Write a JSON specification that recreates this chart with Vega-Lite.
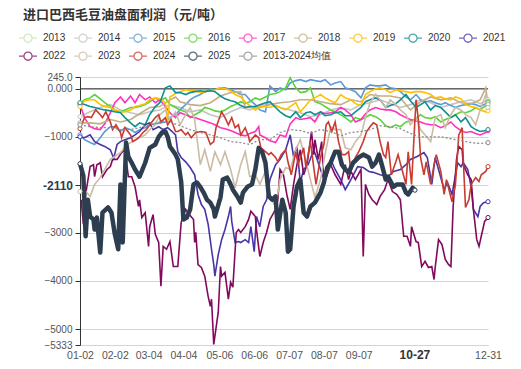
{
"$schema":"https://vega.github.io/schema/vega-lite/v6.json",
"width":408,"height":268,
"autosize":{"type":"none"},
"padding":{"left":80,"top":77,"right":33,"bottom":24},
"background":"#ffffff",
"title":{"text":"进口巴西毛豆油盘面利润（元/吨）","anchor":"start","frame":"group","dx":-57,"offset":6,"font":"Noto Sans CJK SC","fontSize":13,"fontWeight":"bold","color":"#333333"},
"config":{"view":{"stroke":null}},
"data":{"values":[
{"s":"2014","d":"01-02","v":-580},{"s":"2014","d":"01-11","v":-480},{"s":"2014","d":"01-20","v":-390},{"s":"2014","d":"01-29","v":-330},{"s":"2014","d":"02-07","v":-440},{"s":"2014","d":"02-16","v":-500},{"s":"2014","d":"02-24","v":-540},{"s":"2014","d":"03-05","v":-480},{"s":"2014","d":"03-14","v":-440},{"s":"2014","d":"03-23","v":-330},{"s":"2014","d":"04-01","v":-390},{"s":"2014","d":"04-10","v":-480},{"s":"2014","d":"04-19","v":-440},{"s":"2014","d":"04-28","v":-540},{"s":"2014","d":"05-07","v":-600},{"s":"2014","d":"05-16","v":-480},{"s":"2014","d":"05-25","v":-390},{"s":"2014","d":"06-02","v":-440},{"s":"2014","d":"06-11","v":-350},{"s":"2014","d":"06-20","v":-310},{"s":"2014","d":"06-29","v":-390},{"s":"2014","d":"07-08","v":-440},{"s":"2014","d":"07-17","v":-500},{"s":"2014","d":"07-26","v":-580},{"s":"2014","d":"08-04","v":-540},{"s":"2014","d":"08-13","v":-440},{"s":"2014","d":"08-22","v":-390},{"s":"2014","d":"08-31","v":-440},{"s":"2014","d":"09-09","v":-330},{"s":"2014","d":"09-17","v":-290},{"s":"2014","d":"09-26","v":-230},{"s":"2014","d":"10-05","v":-310},{"s":"2014","d":"10-14","v":-390},{"s":"2014","d":"10-23","v":-330},{"s":"2014","d":"11-01","v":-230},{"s":"2014","d":"11-10","v":-290},{"s":"2014","d":"11-19","v":-390},{"s":"2014","d":"11-28","v":-330},{"s":"2014","d":"12-07","v":-270},{"s":"2014","d":"12-16","v":-230},{"s":"2014","d":"12-24","v":-310},{"s":"2014","d":"12-31","v":-230},
{"s":"2015","d":"01-02","v":-960},{"s":"2015","d":"01-06","v":-1060},{"s":"2015","d":"01-11","v":-1120},{"s":"2015","d":"01-15","v":-1160},{"s":"2015","d":"01-20","v":-1020},{"s":"2015","d":"01-24","v":-890},{"s":"2015","d":"01-29","v":-790},{"s":"2015","d":"02-02","v":-790},{"s":"2015","d":"02-07","v":-890},{"s":"2015","d":"02-11","v":-810},{"s":"2015","d":"02-16","v":-850},{"s":"2015","d":"02-20","v":-910},{"s":"2015","d":"02-24","v":-850},{"s":"2015","d":"03-01","v":-810},{"s":"2015","d":"03-05","v":-750},{"s":"2015","d":"03-10","v":-730},{"s":"2015","d":"03-14","v":-710},{"s":"2015","d":"03-19","v":-690},{"s":"2015","d":"03-23","v":-600},{"s":"2015","d":"03-28","v":-540},{"s":"2015","d":"04-01","v":-440},{"s":"2015","d":"04-06","v":-330},{"s":"2015","d":"04-10","v":-230},{"s":"2015","d":"04-14","v":-170},{"s":"2015","d":"04-19","v":-120},{"s":"2015","d":"04-23","v":-60},{"s":"2015","d":"04-28","v":0},{"s":"2015","d":"05-02","v":-20},{"s":"2015","d":"05-07","v":20},{"s":"2015","d":"05-11","v":20},{"s":"2015","d":"05-16","v":-20},{"s":"2015","d":"05-20","v":-60},{"s":"2015","d":"05-25","v":-120},{"s":"2015","d":"05-29","v":-120},{"s":"2015","d":"06-02","v":-230},{"s":"2015","d":"06-07","v":-330},{"s":"2015","d":"06-11","v":-440},{"s":"2015","d":"06-16","v":-480},{"s":"2015","d":"06-20","v":60},{"s":"2015","d":"06-25","v":-60},{"s":"2015","d":"06-29","v":20},{"s":"2015","d":"07-04","v":-20},{"s":"2015","d":"07-08","v":120},{"s":"2015","d":"07-13","v":170},{"s":"2015","d":"07-17","v":190},{"s":"2015","d":"07-22","v":150},{"s":"2015","d":"07-26","v":190},{"s":"2015","d":"07-30","v":170},{"s":"2015","d":"08-04","v":150},{"s":"2015","d":"08-08","v":190},{"s":"2015","d":"08-13","v":80},{"s":"2015","d":"08-17","v":120},{"s":"2015","d":"08-22","v":150},{"s":"2015","d":"08-26","v":20},{"s":"2015","d":"08-31","v":-20},{"s":"2015","d":"09-04","v":-60},{"s":"2015","d":"09-09","v":-190},{"s":"2015","d":"09-13","v":20},{"s":"2015","d":"09-17","v":80},{"s":"2015","d":"09-22","v":60},{"s":"2015","d":"09-26","v":60},{"s":"2015","d":"10-01","v":80},{"s":"2015","d":"10-05","v":20},{"s":"2015","d":"10-10","v":0},{"s":"2015","d":"10-14","v":-60},{"s":"2015","d":"10-19","v":-170},{"s":"2015","d":"10-23","v":-230},{"s":"2015","d":"10-28","v":-120},{"s":"2015","d":"11-01","v":-230},{"s":"2015","d":"11-05","v":-270},{"s":"2015","d":"11-10","v":-250},{"s":"2015","d":"11-14","v":-290},{"s":"2015","d":"11-19","v":-330},{"s":"2015","d":"11-23","v":-290},{"s":"2015","d":"11-28","v":-350},{"s":"2015","d":"12-02","v":-390},{"s":"2015","d":"12-07","v":-350},{"s":"2015","d":"12-11","v":-330},{"s":"2015","d":"12-16","v":-310},{"s":"2015","d":"12-20","v":-330},{"s":"2015","d":"12-24","v":-370},{"s":"2015","d":"12-29","v":-310},{"s":"2015","d":"12-31","v":-270},
{"s":"2016","d":"01-02","v":-310},{"s":"2016","d":"01-06","v":-230},{"s":"2016","d":"01-11","v":-190},{"s":"2016","d":"01-15","v":-120},{"s":"2016","d":"01-20","v":-210},{"s":"2016","d":"01-24","v":-290},{"s":"2016","d":"01-29","v":-370},{"s":"2016","d":"02-02","v":-440},{"s":"2016","d":"02-07","v":-480},{"s":"2016","d":"02-11","v":-440},{"s":"2016","d":"02-16","v":-390},{"s":"2016","d":"02-20","v":-390},{"s":"2016","d":"02-24","v":-370},{"s":"2016","d":"03-01","v":-330},{"s":"2016","d":"03-05","v":-270},{"s":"2016","d":"03-10","v":-190},{"s":"2016","d":"03-14","v":-250},{"s":"2016","d":"03-19","v":-190},{"s":"2016","d":"03-23","v":-330},{"s":"2016","d":"03-28","v":-390},{"s":"2016","d":"04-01","v":-440},{"s":"2016","d":"04-06","v":-480},{"s":"2016","d":"04-10","v":-600},{"s":"2016","d":"04-14","v":-540},{"s":"2016","d":"04-19","v":-480},{"s":"2016","d":"04-23","v":-390},{"s":"2016","d":"04-28","v":-420},{"s":"2016","d":"05-02","v":-460},{"s":"2016","d":"05-07","v":-480},{"s":"2016","d":"05-11","v":-440},{"s":"2016","d":"05-16","v":-370},{"s":"2016","d":"05-20","v":-330},{"s":"2016","d":"05-25","v":-270},{"s":"2016","d":"05-29","v":-310},{"s":"2016","d":"06-02","v":-270},{"s":"2016","d":"06-07","v":-190},{"s":"2016","d":"06-11","v":-230},{"s":"2016","d":"06-16","v":-170},{"s":"2016","d":"06-20","v":-120},{"s":"2016","d":"06-25","v":-100},{"s":"2016","d":"06-29","v":-60},{"s":"2016","d":"07-04","v":20},{"s":"2016","d":"07-08","v":230},{"s":"2016","d":"07-13","v":20},{"s":"2016","d":"07-17","v":-80},{"s":"2016","d":"07-22","v":-60},{"s":"2016","d":"07-26","v":20},{"s":"2016","d":"07-30","v":-270},{"s":"2016","d":"08-04","v":-310},{"s":"2016","d":"08-08","v":-370},{"s":"2016","d":"08-13","v":-440},{"s":"2016","d":"08-17","v":-480},{"s":"2016","d":"08-22","v":-540},{"s":"2016","d":"08-26","v":-600},{"s":"2016","d":"08-31","v":-690},{"s":"2016","d":"09-04","v":-600},{"s":"2016","d":"09-09","v":-640},{"s":"2016","d":"09-13","v":-600},{"s":"2016","d":"09-17","v":-540},{"s":"2016","d":"09-22","v":-580},{"s":"2016","d":"09-26","v":-640},{"s":"2016","d":"10-01","v":-770},{"s":"2016","d":"10-05","v":-810},{"s":"2016","d":"10-10","v":-750},{"s":"2016","d":"10-14","v":-790},{"s":"2016","d":"10-19","v":-690},{"s":"2016","d":"10-23","v":-670},{"s":"2016","d":"10-28","v":-620},{"s":"2016","d":"11-01","v":-540},{"s":"2016","d":"11-05","v":-600},{"s":"2016","d":"11-10","v":-620},{"s":"2016","d":"11-14","v":-580},{"s":"2016","d":"11-19","v":-690},{"s":"2016","d":"11-23","v":-640},{"s":"2016","d":"11-28","v":-600},{"s":"2016","d":"12-02","v":-540},{"s":"2016","d":"12-07","v":-480},{"s":"2016","d":"12-11","v":-500},{"s":"2016","d":"12-16","v":-460},{"s":"2016","d":"12-20","v":-390},{"s":"2016","d":"12-24","v":-440},{"s":"2016","d":"12-29","v":-350},{"s":"2016","d":"12-31","v":-290},
{"s":"2017","d":"01-02","v":-330},{"s":"2017","d":"01-06","v":-600},{"s":"2017","d":"01-11","v":-790},{"s":"2017","d":"01-15","v":-830},{"s":"2017","d":"01-20","v":-850},{"s":"2017","d":"01-24","v":-730},{"s":"2017","d":"01-29","v":-500},{"s":"2017","d":"02-02","v":-290},{"s":"2017","d":"02-07","v":-170},{"s":"2017","d":"02-11","v":-290},{"s":"2017","d":"02-16","v":-150},{"s":"2017","d":"02-20","v":-290},{"s":"2017","d":"02-24","v":-120},{"s":"2017","d":"03-01","v":-230},{"s":"2017","d":"03-05","v":-170},{"s":"2017","d":"03-10","v":-290},{"s":"2017","d":"03-14","v":-230},{"s":"2017","d":"03-19","v":-370},{"s":"2017","d":"03-23","v":-500},{"s":"2017","d":"03-28","v":-600},{"s":"2017","d":"04-01","v":-500},{"s":"2017","d":"04-06","v":-540},{"s":"2017","d":"04-10","v":-580},{"s":"2017","d":"04-14","v":-600},{"s":"2017","d":"04-19","v":-640},{"s":"2017","d":"04-23","v":-670},{"s":"2017","d":"04-28","v":-710},{"s":"2017","d":"05-02","v":-750},{"s":"2017","d":"05-07","v":-810},{"s":"2017","d":"05-11","v":-830},{"s":"2017","d":"05-16","v":-870},{"s":"2017","d":"05-20","v":-910},{"s":"2017","d":"05-25","v":-960},{"s":"2017","d":"05-29","v":-980},{"s":"2017","d":"06-02","v":-930},{"s":"2017","d":"06-07","v":-890},{"s":"2017","d":"06-10","v":-790},{"s":"2017","d":"06-11","v":-960},{"s":"2017","d":"06-16","v":-1020},{"s":"2017","d":"06-20","v":-1080},{"s":"2017","d":"06-25","v":-1120},{"s":"2017","d":"06-29","v":-960},{"s":"2017","d":"07-04","v":-1000},{"s":"2017","d":"07-08","v":-730},{"s":"2017","d":"07-13","v":-600},{"s":"2017","d":"07-17","v":-640},{"s":"2017","d":"07-22","v":-620},{"s":"2017","d":"07-26","v":-600},{"s":"2017","d":"07-30","v":-690},{"s":"2017","d":"08-04","v":-480},{"s":"2017","d":"08-08","v":-520},{"s":"2017","d":"08-13","v":-500},{"s":"2017","d":"08-17","v":-480},{"s":"2017","d":"08-22","v":-390},{"s":"2017","d":"08-26","v":-440},{"s":"2017","d":"08-31","v":-540},{"s":"2017","d":"09-04","v":-690},{"s":"2017","d":"09-09","v":-640},{"s":"2017","d":"09-13","v":-520},{"s":"2017","d":"09-17","v":-440},{"s":"2017","d":"09-22","v":-390},{"s":"2017","d":"09-26","v":-420},{"s":"2017","d":"10-01","v":-440},{"s":"2017","d":"10-05","v":-440},{"s":"2017","d":"10-10","v":-480},{"s":"2017","d":"10-14","v":-540},{"s":"2017","d":"10-19","v":-600},{"s":"2017","d":"10-23","v":-640},{"s":"2017","d":"10-28","v":-670},{"s":"2017","d":"11-01","v":-690},{"s":"2017","d":"11-05","v":-730},{"s":"2017","d":"11-10","v":-750},{"s":"2017","d":"11-14","v":-750},{"s":"2017","d":"11-19","v":-810},{"s":"2017","d":"11-23","v":-770},{"s":"2017","d":"11-28","v":-690},{"s":"2017","d":"12-02","v":-790},{"s":"2017","d":"12-07","v":-870},{"s":"2017","d":"12-11","v":-910},{"s":"2017","d":"12-16","v":-890},{"s":"2017","d":"12-20","v":-930},{"s":"2017","d":"12-24","v":-960},{"s":"2017","d":"12-29","v":-910},{"s":"2017","d":"12-31","v":-870},
{"s":"2018","d":"01-02","v":-710},{"s":"2018","d":"01-11","v":-710},{"s":"2018","d":"01-20","v":-730},{"s":"2018","d":"01-29","v":-640},{"s":"2018","d":"02-07","v":-690},{"s":"2018","d":"02-16","v":-640},{"s":"2018","d":"02-24","v":-520},{"s":"2018","d":"03-05","v":-390},{"s":"2018","d":"03-14","v":-370},{"s":"2018","d":"03-23","v":-230},{"s":"2018","d":"03-28","v":-170},{"s":"2018","d":"04-01","v":-270},{"s":"2018","d":"04-10","v":-330},{"s":"2018","d":"04-19","v":-350},{"s":"2018","d":"04-28","v":-290},{"s":"2018","d":"05-07","v":-150},{"s":"2018","d":"05-16","v":-80},{"s":"2018","d":"05-25","v":-60},{"s":"2018","d":"05-29","v":-390},{"s":"2018","d":"06-02","v":-390},{"s":"2018","d":"06-11","v":-390},{"s":"2018","d":"06-20","v":-330},{"s":"2018","d":"06-29","v":-290},{"s":"2018","d":"07-08","v":-270},{"s":"2018","d":"07-17","v":-230},{"s":"2018","d":"07-26","v":-230},{"s":"2018","d":"08-04","v":-270},{"s":"2018","d":"08-13","v":-310},{"s":"2018","d":"08-22","v":-330},{"s":"2018","d":"08-31","v":-230},{"s":"2018","d":"09-09","v":-270},{"s":"2018","d":"09-17","v":-120},{"s":"2018","d":"09-26","v":-150},{"s":"2018","d":"10-05","v":-150},{"s":"2018","d":"10-14","v":-190},{"s":"2018","d":"10-23","v":-440},{"s":"2018","d":"11-01","v":-270},{"s":"2018","d":"11-10","v":-170},{"s":"2018","d":"11-19","v":-230},{"s":"2018","d":"11-28","v":-190},{"s":"2018","d":"12-07","v":-290},{"s":"2018","d":"12-16","v":-310},{"s":"2018","d":"12-24","v":-230},{"s":"2018","d":"12-29","v":20},{"s":"2018","d":"12-31","v":-330},
{"s":"2019","d":"01-02","v":-370},{"s":"2019","d":"01-06","v":-250},{"s":"2019","d":"01-11","v":-230},{"s":"2019","d":"01-15","v":-230},{"s":"2019","d":"01-20","v":-330},{"s":"2019","d":"01-24","v":-370},{"s":"2019","d":"01-29","v":-390},{"s":"2019","d":"02-02","v":-440},{"s":"2019","d":"02-07","v":-480},{"s":"2019","d":"02-11","v":-480},{"s":"2019","d":"02-16","v":-440},{"s":"2019","d":"02-20","v":-370},{"s":"2019","d":"02-24","v":-350},{"s":"2019","d":"03-01","v":-310},{"s":"2019","d":"03-05","v":-230},{"s":"2019","d":"03-10","v":-190},{"s":"2019","d":"03-14","v":-210},{"s":"2019","d":"03-19","v":-290},{"s":"2019","d":"03-21","v":-690},{"s":"2019","d":"03-23","v":-170},{"s":"2019","d":"03-28","v":-100},{"s":"2019","d":"04-01","v":-60},{"s":"2019","d":"04-06","v":-20},{"s":"2019","d":"04-10","v":-40},{"s":"2019","d":"04-14","v":-40},{"s":"2019","d":"04-19","v":-80},{"s":"2019","d":"04-23","v":-60},{"s":"2019","d":"04-28","v":-40},{"s":"2019","d":"05-02","v":-20},{"s":"2019","d":"05-07","v":20},{"s":"2019","d":"05-11","v":0},{"s":"2019","d":"05-16","v":-40},{"s":"2019","d":"05-20","v":-120},{"s":"2019","d":"05-25","v":-170},{"s":"2019","d":"05-29","v":-270},{"s":"2019","d":"06-02","v":-350},{"s":"2019","d":"06-07","v":-440},{"s":"2019","d":"06-11","v":-370},{"s":"2019","d":"06-16","v":-370},{"s":"2019","d":"06-20","v":-390},{"s":"2019","d":"06-25","v":-350},{"s":"2019","d":"06-29","v":-390},{"s":"2019","d":"07-04","v":-440},{"s":"2019","d":"07-08","v":-370},{"s":"2019","d":"07-13","v":-290},{"s":"2019","d":"07-17","v":-480},{"s":"2019","d":"07-22","v":-350},{"s":"2019","d":"07-26","v":-230},{"s":"2019","d":"07-30","v":-190},{"s":"2019","d":"08-04","v":-120},{"s":"2019","d":"08-08","v":-190},{"s":"2019","d":"08-13","v":-250},{"s":"2019","d":"08-17","v":-290},{"s":"2019","d":"08-22","v":-120},{"s":"2019","d":"08-26","v":-190},{"s":"2019","d":"08-31","v":-230},{"s":"2019","d":"09-04","v":-310},{"s":"2019","d":"09-09","v":-350},{"s":"2019","d":"09-13","v":-120},{"s":"2019","d":"09-17","v":-60},{"s":"2019","d":"09-22","v":0},{"s":"2019","d":"09-26","v":20},{"s":"2019","d":"10-01","v":-20},{"s":"2019","d":"10-05","v":-80},{"s":"2019","d":"10-10","v":-20},{"s":"2019","d":"10-14","v":-40},{"s":"2019","d":"10-19","v":-60},{"s":"2019","d":"10-23","v":-80},{"s":"2019","d":"10-28","v":-60},{"s":"2019","d":"11-01","v":-60},{"s":"2019","d":"11-05","v":-80},{"s":"2019","d":"11-10","v":-120},{"s":"2019","d":"11-14","v":-190},{"s":"2019","d":"11-19","v":-170},{"s":"2019","d":"11-23","v":-210},{"s":"2019","d":"11-28","v":-230},{"s":"2019","d":"12-02","v":-170},{"s":"2019","d":"12-07","v":-210},{"s":"2019","d":"12-11","v":-330},{"s":"2019","d":"12-16","v":-370},{"s":"2019","d":"12-20","v":-390},{"s":"2019","d":"12-24","v":-440},{"s":"2019","d":"12-29","v":-480},{"s":"2019","d":"12-31","v":-460},
{"s":"2020","d":"01-02","v":-290},{"s":"2020","d":"01-06","v":-330},{"s":"2020","d":"01-11","v":-370},{"s":"2020","d":"01-15","v":-390},{"s":"2020","d":"01-20","v":-420},{"s":"2020","d":"01-24","v":-440},{"s":"2020","d":"01-29","v":-460},{"s":"2020","d":"02-02","v":-480},{"s":"2020","d":"02-07","v":-500},{"s":"2020","d":"02-11","v":-600},{"s":"2020","d":"02-16","v":-710},{"s":"2020","d":"02-20","v":-790},{"s":"2020","d":"02-24","v":-710},{"s":"2020","d":"03-01","v":-750},{"s":"2020","d":"03-05","v":-540},{"s":"2020","d":"03-10","v":-370},{"s":"2020","d":"03-14","v":-290},{"s":"2020","d":"03-19","v":20},{"s":"2020","d":"03-23","v":60},{"s":"2020","d":"03-28","v":-80},{"s":"2020","d":"04-01","v":-80},{"s":"2020","d":"04-06","v":-120},{"s":"2020","d":"04-10","v":-80},{"s":"2020","d":"04-14","v":-60},{"s":"2020","d":"04-19","v":-40},{"s":"2020","d":"04-23","v":-60},{"s":"2020","d":"04-28","v":-40},{"s":"2020","d":"05-02","v":-60},{"s":"2020","d":"05-07","v":-150},{"s":"2020","d":"05-11","v":-210},{"s":"2020","d":"05-16","v":-250},{"s":"2020","d":"05-20","v":-270},{"s":"2020","d":"05-25","v":-350},{"s":"2020","d":"05-29","v":-390},{"s":"2020","d":"06-02","v":-370},{"s":"2020","d":"06-07","v":-370},{"s":"2020","d":"06-11","v":-330},{"s":"2020","d":"06-16","v":-290},{"s":"2020","d":"06-20","v":-270},{"s":"2020","d":"06-25","v":-390},{"s":"2020","d":"06-29","v":-480},{"s":"2020","d":"07-04","v":-560},{"s":"2020","d":"07-08","v":-600},{"s":"2020","d":"07-13","v":-480},{"s":"2020","d":"07-17","v":-600},{"s":"2020","d":"07-22","v":-500},{"s":"2020","d":"07-26","v":-480},{"s":"2020","d":"07-30","v":-540},{"s":"2020","d":"08-04","v":-480},{"s":"2020","d":"08-08","v":-560},{"s":"2020","d":"08-13","v":-540},{"s":"2020","d":"08-17","v":-500},{"s":"2020","d":"08-22","v":-480},{"s":"2020","d":"08-26","v":-560},{"s":"2020","d":"08-31","v":-560},{"s":"2020","d":"09-04","v":-480},{"s":"2020","d":"09-09","v":-390},{"s":"2020","d":"09-13","v":-270},{"s":"2020","d":"09-17","v":-230},{"s":"2020","d":"09-22","v":-190},{"s":"2020","d":"09-26","v":-230},{"s":"2020","d":"10-01","v":-390},{"s":"2020","d":"10-05","v":-350},{"s":"2020","d":"10-10","v":-310},{"s":"2020","d":"10-14","v":-230},{"s":"2020","d":"10-19","v":-120},{"s":"2020","d":"10-23","v":-250},{"s":"2020","d":"10-28","v":-390},{"s":"2020","d":"11-01","v":-330},{"s":"2020","d":"11-05","v":-270},{"s":"2020","d":"11-10","v":-440},{"s":"2020","d":"11-14","v":-350},{"s":"2020","d":"11-19","v":-390},{"s":"2020","d":"11-23","v":-480},{"s":"2020","d":"11-28","v":-600},{"s":"2020","d":"12-02","v":-540},{"s":"2020","d":"12-07","v":-690},{"s":"2020","d":"12-11","v":-600},{"s":"2020","d":"12-16","v":-790},{"s":"2020","d":"12-20","v":-850},{"s":"2020","d":"12-24","v":-890},{"s":"2020","d":"12-29","v":-870},{"s":"2020","d":"12-31","v":-850},
{"s":"2021","d":"01-02","v":-1000},{"s":"2021","d":"01-06","v":-1020},{"s":"2021","d":"01-11","v":-960},{"s":"2021","d":"01-15","v":-1100},{"s":"2021","d":"01-20","v":-1160},{"s":"2021","d":"01-24","v":-1200},{"s":"2021","d":"01-29","v":-1270},{"s":"2021","d":"02-01","v":-1450},{"s":"2021","d":"02-04","v":-1160},{"s":"2021","d":"02-07","v":-1100},{"s":"2021","d":"02-11","v":-1060},{"s":"2021","d":"02-16","v":-1020},{"s":"2021","d":"02-20","v":-960},{"s":"2021","d":"02-24","v":-890},{"s":"2021","d":"03-01","v":-750},{"s":"2021","d":"03-05","v":-710},{"s":"2021","d":"03-08","v":-850},{"s":"2021","d":"03-13","v":-790},{"s":"2021","d":"03-17","v":-850},{"s":"2021","d":"03-21","v":-810},{"s":"2021","d":"03-25","v":-890},{"s":"2021","d":"03-28","v":-960},{"s":"2021","d":"03-30","v":-1310},{"s":"2021","d":"04-02","v":-1430},{"s":"2021","d":"04-06","v":-1520},{"s":"2021","d":"04-10","v":-1640},{"s":"2021","d":"04-14","v":-1790},{"s":"2021","d":"04-17","v":-2200},{"s":"2021","d":"04-20","v":-2410},{"s":"2021","d":"04-23","v":-2510},{"s":"2021","d":"04-26","v":-2820},{"s":"2021","d":"04-29","v":-3340},{"s":"2021","d":"05-01","v":-3660},{"s":"2021","d":"05-02","v":-3900},{"s":"2021","d":"05-05","v":-3450},{"s":"2021","d":"05-08","v":-3140},{"s":"2021","d":"05-11","v":-2930},{"s":"2021","d":"05-14","v":-2660},{"s":"2021","d":"05-16","v":-2450},{"s":"2021","d":"05-17","v":-2760},{"s":"2021","d":"05-20","v":-3200},{"s":"2021","d":"05-23","v":-3180},{"s":"2021","d":"05-25","v":-3200},{"s":"2021","d":"05-29","v":-3140},{"s":"2021","d":"06-01","v":-3200},{"s":"2021","d":"06-03","v":-2870},{"s":"2021","d":"06-06","v":-3390},{"s":"2021","d":"06-08","v":-2660},{"s":"2021","d":"06-11","v":-2870},{"s":"2021","d":"06-14","v":-2450},{"s":"2021","d":"06-17","v":-2310},{"s":"2021","d":"06-20","v":-1890},{"s":"2021","d":"06-25","v":-1580},{"s":"2021","d":"06-29","v":-1470},{"s":"2021","d":"07-04","v":-1270},{"s":"2021","d":"07-08","v":-960},{"s":"2021","d":"07-11","v":-1410},{"s":"2021","d":"07-14","v":-1200},{"s":"2021","d":"07-17","v":-1950},{"s":"2021","d":"07-20","v":-1680},{"s":"2021","d":"07-24","v":-1580},{"s":"2021","d":"07-29","v":-1270},{"s":"2021","d":"08-01","v":-1470},{"s":"2021","d":"08-07","v":-1890},{"s":"2021","d":"08-13","v":-1470},{"s":"2021","d":"08-17","v":-1680},{"s":"2021","d":"08-22","v":-1890},{"s":"2021","d":"08-26","v":-2100},{"s":"2021","d":"08-31","v":-1890},{"s":"2021","d":"09-06","v":-1620},{"s":"2021","d":"09-11","v":-1640},{"s":"2021","d":"09-16","v":-1720},{"s":"2021","d":"09-20","v":-1740},{"s":"2021","d":"09-26","v":-1790},{"s":"2021","d":"10-03","v":-1830},{"s":"2021","d":"10-08","v":-1720},{"s":"2021","d":"10-14","v":-1680},{"s":"2021","d":"10-19","v":-1580},{"s":"2021","d":"10-23","v":-1470},{"s":"2021","d":"10-29","v":-1410},{"s":"2021","d":"11-04","v":-1330},{"s":"2021","d":"11-07","v":-1430},{"s":"2021","d":"11-11","v":-1990},{"s":"2021","d":"11-14","v":-1430},{"s":"2021","d":"11-17","v":-1680},{"s":"2021","d":"11-22","v":-2100},{"s":"2021","d":"11-25","v":-1950},{"s":"2021","d":"11-29","v":-2200},{"s":"2021","d":"12-04","v":-1540},{"s":"2021","d":"12-07","v":-1620},{"s":"2021","d":"12-09","v":-1540},{"s":"2021","d":"12-13","v":-1680},{"s":"2021","d":"12-16","v":-2040},{"s":"2021","d":"12-18","v":-2510},{"s":"2021","d":"12-22","v":-2660},{"s":"2021","d":"12-24","v":-2450},{"s":"2021","d":"12-27","v":-2370},{"s":"2021","d":"12-31","v":-2350},
{"s":"2022","d":"01-03","v":-2310},{"s":"2022","d":"01-05","v":-2820},{"s":"2022","d":"01-07","v":-2200},{"s":"2022","d":"01-11","v":-1620},{"s":"2022","d":"01-14","v":-1580},{"s":"2022","d":"01-15","v":-1830},{"s":"2022","d":"01-17","v":-1580},{"s":"2022","d":"01-20","v":-1540},{"s":"2022","d":"01-22","v":-1830},{"s":"2022","d":"01-26","v":-1680},{"s":"2022","d":"01-29","v":-1620},{"s":"2022","d":"01-31","v":-1470},{"s":"2022","d":"02-04","v":-1470},{"s":"2022","d":"02-08","v":-1330},{"s":"2022","d":"02-11","v":-1270},{"s":"2022","d":"02-14","v":-1830},{"s":"2022","d":"02-17","v":-1830},{"s":"2022","d":"02-20","v":-2040},{"s":"2022","d":"02-23","v":-2450},{"s":"2022","d":"02-24","v":-2310},{"s":"2022","d":"02-26","v":-2680},{"s":"2022","d":"03-01","v":-2580},{"s":"2022","d":"03-04","v":-3280},{"s":"2022","d":"03-05","v":-2870},{"s":"2022","d":"03-08","v":-2620},{"s":"2022","d":"03-10","v":-3030},{"s":"2022","d":"03-13","v":-3200},{"s":"2022","d":"03-15","v":-4110},{"s":"2022","d":"03-17","v":-3280},{"s":"2022","d":"03-20","v":-3340},{"s":"2022","d":"03-23","v":-3180},{"s":"2022","d":"03-26","v":-3700},{"s":"2022","d":"03-30","v":-3700},{"s":"2022","d":"04-02","v":-2780},{"s":"2022","d":"04-06","v":-2510},{"s":"2022","d":"04-08","v":-2580},{"s":"2022","d":"04-13","v":-2720},{"s":"2022","d":"04-14","v":-3200},{"s":"2022","d":"04-15","v":-2990},{"s":"2022","d":"04-17","v":-3660},{"s":"2022","d":"04-20","v":-3720},{"s":"2022","d":"04-23","v":-3900},{"s":"2022","d":"04-26","v":-4320},{"s":"2022","d":"04-28","v":-4530},{"s":"2022","d":"04-29","v":-4380},{"s":"2022","d":"05-01","v":-5320},{"s":"2022","d":"05-05","v":-4650},{"s":"2022","d":"05-07","v":-3700},{"s":"2022","d":"05-08","v":-3900},{"s":"2022","d":"05-11","v":-3820},{"s":"2022","d":"05-14","v":-4380},{"s":"2022","d":"05-16","v":-4030},{"s":"2022","d":"05-18","v":-4130},{"s":"2022","d":"05-21","v":-2990},{"s":"2022","d":"05-23","v":-2930},{"s":"2022","d":"05-25","v":-2990},{"s":"2022","d":"05-29","v":-2870},{"s":"2022","d":"06-01","v":-2720},{"s":"2022","d":"06-03","v":-2550},{"s":"2022","d":"06-07","v":-2660},{"s":"2022","d":"06-08","v":-2930},{"s":"2022","d":"06-11","v":-3490},{"s":"2022","d":"06-14","v":-3200},{"s":"2022","d":"06-17","v":-2990},{"s":"2022","d":"06-20","v":-2720},{"s":"2022","d":"06-25","v":-2510},{"s":"2022","d":"06-27","v":-2310},{"s":"2022","d":"06-29","v":-1680},{"s":"2022","d":"07-02","v":-1790},{"s":"2022","d":"07-05","v":-2200},{"s":"2022","d":"07-08","v":-2510},{"s":"2022","d":"07-11","v":-1990},{"s":"2022","d":"07-14","v":-1580},{"s":"2022","d":"07-17","v":-1270},{"s":"2022","d":"07-20","v":-1790},{"s":"2022","d":"07-23","v":-1580},{"s":"2022","d":"07-27","v":-890},{"s":"2022","d":"07-29","v":-1370},{"s":"2022","d":"07-30","v":-1060},{"s":"2022","d":"08-02","v":-1470},{"s":"2022","d":"08-05","v":-1100},{"s":"2022","d":"08-07","v":-1950},{"s":"2022","d":"08-10","v":-1790},{"s":"2022","d":"08-13","v":-1580},{"s":"2022","d":"08-17","v":-1790},{"s":"2022","d":"08-22","v":-1990},{"s":"2022","d":"08-26","v":-1580},{"s":"2022","d":"08-29","v":-1890},{"s":"2022","d":"08-31","v":-1720},{"s":"2022","d":"09-04","v":-1890},{"s":"2022","d":"09-09","v":-1680},{"s":"2022","d":"09-11","v":-3490},{"s":"2022","d":"09-13","v":-1990},{"s":"2022","d":"09-16","v":-2200},{"s":"2022","d":"09-19","v":-2310},{"s":"2022","d":"09-23","v":-2410},{"s":"2022","d":"09-26","v":-2240},{"s":"2022","d":"09-30","v":-2100},{"s":"2022","d":"10-03","v":-1890},{"s":"2022","d":"10-07","v":-2140},{"s":"2022","d":"10-11","v":-2200},{"s":"2022","d":"10-14","v":-2310},{"s":"2022","d":"10-17","v":-3070},{"s":"2022","d":"10-20","v":-3070},{"s":"2022","d":"10-23","v":-3280},{"s":"2022","d":"10-24","v":-2870},{"s":"2022","d":"10-28","v":-3180},{"s":"2022","d":"10-30","v":-3200},{"s":"2022","d":"11-02","v":-3700},{"s":"2022","d":"11-05","v":-3590},{"s":"2022","d":"11-08","v":-3720},{"s":"2022","d":"11-11","v":-3700},{"s":"2022","d":"11-13","v":-3970},{"s":"2022","d":"11-14","v":-3720},{"s":"2022","d":"11-17","v":-3140},{"s":"2022","d":"11-20","v":-3240},{"s":"2022","d":"11-23","v":-3550},{"s":"2022","d":"11-26","v":-3660},{"s":"2022","d":"11-28","v":-3700},{"s":"2022","d":"11-30","v":-2450},{"s":"2022","d":"12-03","v":-1470},{"s":"2022","d":"12-05","v":-1200},{"s":"2022","d":"12-08","v":-1270},{"s":"2022","d":"12-09","v":-1580},{"s":"2022","d":"12-13","v":-1790},{"s":"2022","d":"12-16","v":-1890},{"s":"2022","d":"12-18","v":-2510},{"s":"2022","d":"12-21","v":-3140},{"s":"2022","d":"12-23","v":-3280},{"s":"2022","d":"12-25","v":-3070},{"s":"2022","d":"12-28","v":-2760},{"s":"2022","d":"12-31","v":-2680},
{"s":"2023","d":"01-02","v":-2140},{"s":"2023","d":"01-06","v":-2100},{"s":"2023","d":"01-11","v":-2240},{"s":"2023","d":"01-15","v":-1990},{"s":"2023","d":"01-20","v":-1850},{"s":"2023","d":"01-24","v":-1680},{"s":"2023","d":"01-29","v":-1470},{"s":"2023","d":"02-02","v":-1410},{"s":"2023","d":"02-07","v":-1330},{"s":"2023","d":"02-11","v":-1200},{"s":"2023","d":"02-16","v":-1120},{"s":"2023","d":"02-20","v":-1060},{"s":"2023","d":"02-24","v":-1020},{"s":"2023","d":"03-01","v":-960},{"s":"2023","d":"03-05","v":-850},{"s":"2023","d":"03-10","v":-750},{"s":"2023","d":"03-14","v":-540},{"s":"2023","d":"03-19","v":-440},{"s":"2023","d":"03-23","v":-640},{"s":"2023","d":"03-28","v":-480},{"s":"2023","d":"04-01","v":-750},{"s":"2023","d":"04-06","v":-540},{"s":"2023","d":"04-10","v":-390},{"s":"2023","d":"04-14","v":-640},{"s":"2023","d":"04-19","v":-1580},{"s":"2023","d":"04-23","v":-1270},{"s":"2023","d":"04-28","v":-1720},{"s":"2023","d":"05-02","v":-1310},{"s":"2023","d":"05-07","v":-1580},{"s":"2023","d":"05-11","v":-1310},{"s":"2023","d":"05-16","v":-1680},{"s":"2023","d":"05-20","v":-2060},{"s":"2023","d":"05-25","v":-1580},{"s":"2023","d":"05-29","v":-1310},{"s":"2023","d":"06-02","v":-1830},{"s":"2023","d":"06-07","v":-1790},{"s":"2023","d":"06-11","v":-1990},{"s":"2023","d":"06-16","v":-1720},{"s":"2023","d":"06-20","v":-2200},{"s":"2023","d":"06-25","v":-2470},{"s":"2023","d":"06-29","v":-1890},{"s":"2023","d":"07-04","v":-1640},{"s":"2023","d":"07-08","v":-1680},{"s":"2023","d":"07-13","v":-1270},{"s":"2023","d":"07-17","v":-1060},{"s":"2023","d":"07-22","v":-1520},{"s":"2023","d":"07-26","v":-1890},{"s":"2023","d":"07-30","v":-2260},{"s":"2023","d":"08-04","v":-1890},{"s":"2023","d":"08-08","v":-1370},{"s":"2023","d":"08-13","v":-790},{"s":"2023","d":"08-17","v":-850},{"s":"2023","d":"08-22","v":-850},{"s":"2023","d":"08-26","v":-1230},{"s":"2023","d":"08-31","v":-1270},{"s":"2023","d":"09-04","v":-1100},{"s":"2023","d":"09-09","v":-960},{"s":"2023","d":"09-13","v":-600},{"s":"2023","d":"09-17","v":-290},{"s":"2023","d":"09-22","v":-120},{"s":"2023","d":"09-26","v":-230},{"s":"2023","d":"10-01","v":-390},{"s":"2023","d":"10-05","v":-230},{"s":"2023","d":"10-10","v":-330},{"s":"2023","d":"10-14","v":-440},{"s":"2023","d":"10-19","v":-540},{"s":"2023","d":"10-23","v":-750},{"s":"2023","d":"10-28","v":-600},{"s":"2023","d":"11-01","v":-850},{"s":"2023","d":"11-05","v":-960},{"s":"2023","d":"11-10","v":-1100},{"s":"2023","d":"11-14","v":-600},{"s":"2023","d":"11-19","v":-540},{"s":"2023","d":"11-23","v":-810},{"s":"2023","d":"11-28","v":-540},{"s":"2023","d":"12-02","v":-390},{"s":"2023","d":"12-07","v":-440},{"s":"2023","d":"12-11","v":-540},{"s":"2023","d":"12-16","v":-600},{"s":"2023","d":"12-20","v":-750},{"s":"2023","d":"12-24","v":-440},{"s":"2023","d":"12-29","v":-120},{"s":"2023","d":"12-31","v":-390},
{"s":"2024","d":"01-02","v":-830},{"s":"2024","d":"01-06","v":-600},{"s":"2024","d":"01-09","v":-580},{"s":"2024","d":"01-12","v":-600},{"s":"2024","d":"01-16","v":-440},{"s":"2024","d":"01-20","v":-540},{"s":"2024","d":"01-22","v":-600},{"s":"2024","d":"01-25","v":-480},{"s":"2024","d":"01-29","v":-690},{"s":"2024","d":"01-31","v":-850},{"s":"2024","d":"02-03","v":-750},{"s":"2024","d":"02-07","v":-910},{"s":"2024","d":"02-08","v":-1020},{"s":"2024","d":"02-11","v":-810},{"s":"2024","d":"02-16","v":-960},{"s":"2024","d":"02-18","v":-1100},{"s":"2024","d":"02-21","v":-1060},{"s":"2024","d":"02-24","v":-1000},{"s":"2024","d":"02-27","v":-910},{"s":"2024","d":"03-02","v":-850},{"s":"2024","d":"03-05","v":-750},{"s":"2024","d":"03-10","v":-600},{"s":"2024","d":"03-13","v":-540},{"s":"2024","d":"03-15","v":-690},{"s":"2024","d":"03-19","v":-600},{"s":"2024","d":"03-21","v":-750},{"s":"2024","d":"03-24","v":-640},{"s":"2024","d":"03-28","v":-890},{"s":"2024","d":"03-30","v":-890},{"s":"2024","d":"04-02","v":-850},{"s":"2024","d":"04-06","v":-960},{"s":"2024","d":"04-08","v":-910},{"s":"2024","d":"04-11","v":-1020},{"s":"2024","d":"04-15","v":-910},{"s":"2024","d":"04-20","v":-890},{"s":"2024","d":"04-24","v":-910},{"s":"2024","d":"04-28","v":-1160},{"s":"2024","d":"05-01","v":-1100},{"s":"2024","d":"05-03","v":-810},{"s":"2024","d":"05-08","v":-480},{"s":"2024","d":"05-11","v":-600},{"s":"2024","d":"05-14","v":-750},{"s":"2024","d":"05-17","v":-600},{"s":"2024","d":"05-20","v":-810},{"s":"2024","d":"05-23","v":-750},{"s":"2024","d":"05-25","v":-960},{"s":"2024","d":"05-29","v":-810},{"s":"2024","d":"06-01","v":-1000},{"s":"2024","d":"06-02","v":-1100},{"s":"2024","d":"06-07","v":-960},{"s":"2024","d":"06-10","v":-1020},{"s":"2024","d":"06-12","v":-1230},{"s":"2024","d":"06-16","v":-1310},{"s":"2024","d":"06-19","v":-1370},{"s":"2024","d":"06-21","v":-1330},{"s":"2024","d":"06-25","v":-1430},{"s":"2024","d":"06-27","v":-1520},{"s":"2024","d":"06-30","v":-1370},{"s":"2024","d":"07-04","v":-1270},{"s":"2024","d":"07-06","v":-1520},{"s":"2024","d":"07-09","v":-1790},{"s":"2024","d":"07-13","v":-1310},{"s":"2024","d":"07-15","v":-1580},{"s":"2024","d":"07-20","v":-1230},{"s":"2024","d":"07-22","v":-1640},{"s":"2024","d":"07-26","v":-1100},{"s":"2024","d":"07-29","v":-1640},{"s":"2024","d":"07-31","v":-1990},{"s":"2024","d":"08-04","v":-1430},{"s":"2024","d":"08-07","v":-1160},{"s":"2024","d":"08-09","v":-750},{"s":"2024","d":"08-11","v":-690},{"s":"2024","d":"08-14","v":-890},{"s":"2024","d":"08-17","v":-690},{"s":"2024","d":"08-20","v":-1100},{"s":"2024","d":"08-23","v":-1370},{"s":"2024","d":"08-26","v":-1370},{"s":"2024","d":"08-29","v":-1310},{"s":"2024","d":"08-31","v":-1720},{"s":"2024","d":"09-04","v":-1430},{"s":"2024","d":"09-07","v":-1310},{"s":"2024","d":"09-11","v":-1100},{"s":"2024","d":"09-14","v":-890},{"s":"2024","d":"09-17","v":-790},{"s":"2024","d":"09-20","v":-710},{"s":"2024","d":"09-23","v":-750},{"s":"2024","d":"09-26","v":-1100},{"s":"2024","d":"09-29","v":-1370},{"s":"2024","d":"10-01","v":-1430},{"s":"2024","d":"10-03","v":-1100},{"s":"2024","d":"10-06","v":-1790},{"s":"2024","d":"10-10","v":-1520},{"s":"2024","d":"10-12","v":-1370},{"s":"2024","d":"10-15","v":-1640},{"s":"2024","d":"10-19","v":-1990},{"s":"2024","d":"10-21","v":-1310},{"s":"2024","d":"10-24","v":-1990},{"s":"2024","d":"10-27","v":-640},{"s":"2024","d":"10-28","v":-230},{"s":"2024","d":"10-30","v":-640},{"s":"2024","d":"11-01","v":-1430},{"s":"2024","d":"11-04","v":-1790},{"s":"2024","d":"11-06","v":-1520},{"s":"2024","d":"11-10","v":-1990},{"s":"2024","d":"11-13","v":-1580},{"s":"2024","d":"11-15","v":-1370},{"s":"2024","d":"11-19","v":-1720},{"s":"2024","d":"11-22","v":-2200},{"s":"2024","d":"11-24","v":-1890},{"s":"2024","d":"11-29","v":-2350},{"s":"2024","d":"12-02","v":-1990},{"s":"2024","d":"12-05","v":-960},{"s":"2024","d":"12-08","v":-810},{"s":"2024","d":"12-09","v":-1470},{"s":"2024","d":"12-11","v":-2470},{"s":"2024","d":"12-14","v":-2310},{"s":"2024","d":"12-16","v":-1990},{"s":"2024","d":"12-20","v":-1850},{"s":"2024","d":"12-23","v":-1930},{"s":"2024","d":"12-25","v":-1790},{"s":"2024","d":"12-29","v":-1720},{"s":"2024","d":"12-31","v":-1620},
{"s":"2025","d":"01-02","v":-1560},{"s":"2025","d":"01-05","v":-1810},{"s":"2025","d":"01-07","v":-3070},{"s":"2025","d":"01-09","v":-2310},{"s":"2025","d":"01-11","v":-2660},{"s":"2025","d":"01-14","v":-2720},{"s":"2025","d":"01-15","v":-2930},{"s":"2025","d":"01-17","v":-2680},{"s":"2025","d":"01-20","v":-3410},{"s":"2025","d":"01-22","v":-2580},{"s":"2025","d":"01-27","v":-2470},{"s":"2025","d":"01-30","v":-2580},{"s":"2025","d":"02-02","v":-3030},{"s":"2025","d":"02-05","v":-3340},{"s":"2025","d":"02-07","v":-1990},{"s":"2025","d":"02-09","v":-3200},{"s":"2025","d":"02-12","v":-1120},{"s":"2025","d":"02-14","v":-1410},{"s":"2025","d":"02-17","v":-1540},{"s":"2025","d":"02-20","v":-1680},{"s":"2025","d":"02-24","v":-1830},{"s":"2025","d":"03-01","v":-1540},{"s":"2025","d":"03-05","v":-1230},{"s":"2025","d":"03-10","v":-1160},{"s":"2025","d":"03-13","v":-1000},{"s":"2025","d":"03-16","v":-910},{"s":"2025","d":"03-19","v":-890},{"s":"2025","d":"03-21","v":-1000},{"s":"2025","d":"03-23","v":-1200},{"s":"2025","d":"03-28","v":-1370},{"s":"2025","d":"03-30","v":-1470},{"s":"2025","d":"04-02","v":-1930},{"s":"2025","d":"04-04","v":-2720},{"s":"2025","d":"04-07","v":-2680},{"s":"2025","d":"04-10","v":-2510},{"s":"2025","d":"04-13","v":-1990},{"s":"2025","d":"04-16","v":-1950},{"s":"2025","d":"04-19","v":-2040},{"s":"2025","d":"04-22","v":-2160},{"s":"2025","d":"04-25","v":-2310},{"s":"2025","d":"04-28","v":-2370},{"s":"2025","d":"05-01","v":-2510},{"s":"2025","d":"05-02","v":-2660},{"s":"2025","d":"05-07","v":-2260},{"s":"2025","d":"05-09","v":-1890},{"s":"2025","d":"05-13","v":-1850},{"s":"2025","d":"05-16","v":-1990},{"s":"2025","d":"05-18","v":-2100},{"s":"2025","d":"05-22","v":-2240},{"s":"2025","d":"05-25","v":-2370},{"s":"2025","d":"05-27","v":-2160},{"s":"2025","d":"05-31","v":-2040},{"s":"2025","d":"06-04","v":-1990},{"s":"2025","d":"06-07","v":-1680},{"s":"2025","d":"06-10","v":-1230},{"s":"2025","d":"06-13","v":-1310},{"s":"2025","d":"06-16","v":-1540},{"s":"2025","d":"06-19","v":-2240},{"s":"2025","d":"06-22","v":-2310},{"s":"2025","d":"06-25","v":-2240},{"s":"2025","d":"06-27","v":-2930},{"s":"2025","d":"07-01","v":-2310},{"s":"2025","d":"07-04","v":-2580},{"s":"2025","d":"07-06","v":-3390},{"s":"2025","d":"07-08","v":-3340},{"s":"2025","d":"07-11","v":-2450},{"s":"2025","d":"07-14","v":-2040},{"s":"2025","d":"07-17","v":-1890},{"s":"2025","d":"07-20","v":-2580},{"s":"2025","d":"07-23","v":-2660},{"s":"2025","d":"07-26","v":-2450},{"s":"2025","d":"07-30","v":-2370},{"s":"2025","d":"08-04","v":-2160},{"s":"2025","d":"08-07","v":-1950},{"s":"2025","d":"08-10","v":-1640},{"s":"2025","d":"08-13","v":-1540},{"s":"2025","d":"08-17","v":-1310},{"s":"2025","d":"08-20","v":-1310},{"s":"2025","d":"08-23","v":-1580},{"s":"2025","d":"08-26","v":-1680},{"s":"2025","d":"08-29","v":-1740},{"s":"2025","d":"09-02","v":-1540},{"s":"2025","d":"09-07","v":-1430},{"s":"2025","d":"09-11","v":-1370},{"s":"2025","d":"09-16","v":-1430},{"s":"2025","d":"09-19","v":-1620},{"s":"2025","d":"09-22","v":-1540},{"s":"2025","d":"09-25","v":-1370},{"s":"2025","d":"09-28","v":-1620},{"s":"2025","d":"10-01","v":-1890},{"s":"2025","d":"10-03","v":-1830},{"s":"2025","d":"10-08","v":-2040},{"s":"2025","d":"10-11","v":-1990},{"s":"2025","d":"10-16","v":-1990},{"s":"2025","d":"10-19","v":-2160},{"s":"2025","d":"10-21","v":-2200},{"s":"2025","d":"10-25","v":-2060},{"s":"2025","d":"10-27","v":-2110},
{"s":"2013-2024均值","d":"01-02","v":-750},{"s":"2013-2024均值","d":"01-11","v":-790},{"s":"2013-2024均值","d":"01-20","v":-810},{"s":"2013-2024均值","d":"01-29","v":-810},{"s":"2013-2024均值","d":"02-07","v":-850},{"s":"2013-2024均值","d":"02-16","v":-850},{"s":"2013-2024均值","d":"02-24","v":-810},{"s":"2013-2024均值","d":"03-05","v":-750},{"s":"2013-2024均值","d":"03-14","v":-690},{"s":"2013-2024均值","d":"03-23","v":-690},{"s":"2013-2024均值","d":"04-01","v":-770},{"s":"2013-2024均值","d":"04-10","v":-850},{"s":"2013-2024均值","d":"04-19","v":-910},{"s":"2013-2024均值","d":"04-28","v":-960},{"s":"2013-2024均值","d":"05-07","v":-1020},{"s":"2013-2024均值","d":"05-16","v":-1100},{"s":"2013-2024均值","d":"05-25","v":-1120},{"s":"2013-2024均值","d":"06-02","v":-1160},{"s":"2013-2024均值","d":"06-11","v":-1060},{"s":"2013-2024均值","d":"06-20","v":-1060},{"s":"2013-2024均值","d":"06-29","v":-910},{"s":"2013-2024均值","d":"07-08","v":-850},{"s":"2013-2024均值","d":"07-17","v":-870},{"s":"2013-2024均值","d":"07-26","v":-930},{"s":"2013-2024均值","d":"08-04","v":-850},{"s":"2013-2024均值","d":"08-13","v":-890},{"s":"2013-2024均值","d":"08-22","v":-980},{"s":"2013-2024均值","d":"08-31","v":-910},{"s":"2013-2024均值","d":"09-09","v":-890},{"s":"2013-2024均值","d":"09-17","v":-850},{"s":"2013-2024均值","d":"09-26","v":-770},{"s":"2013-2024均值","d":"10-05","v":-790},{"s":"2013-2024均值","d":"10-14","v":-830},{"s":"2013-2024均值","d":"10-23","v":-930},{"s":"2013-2024均值","d":"11-01","v":-1000},{"s":"2013-2024均值","d":"11-10","v":-1000},{"s":"2013-2024均值","d":"11-19","v":-1000},{"s":"2013-2024均值","d":"11-28","v":-1040},{"s":"2013-2024均值","d":"12-07","v":-1080},{"s":"2013-2024均值","d":"12-16","v":-1120},{"s":"2013-2024均值","d":"12-24","v":-1140},{"s":"2013-2024均值","d":"12-31","v":-1120}
],"format":{"parse":{"d":"date:'%m-%d'"}}},
"encoding":{
"x":{"field":"d","type":"temporal","scale":{"domain":[{"year":1900,"month":1,"date":2},{"year":1900,"month":12,"date":31}]},"axis":{"title":null,"format":"%m-%d","values":[{"year":1900,"month":1,"date":2},{"year":1900,"month":2,"date":2},{"year":1900,"month":3,"date":4},{"year":1900,"month":4,"date":4},{"year":1900,"month":5,"date":6},{"year":1900,"month":6,"date":6},{"year":1900,"month":7,"date":7},{"year":1900,"month":8,"date":7},{"year":1900,"month":9,"date":7},{"year":1900,"month":12,"date":31}],"domain":false,"ticks":false,"grid":false,"labelFlush":false,"labelOverlap":false,"labelPadding":5,"labelFont":"Liberation Sans","labelFontSize":10.5,"labelColor":"#555555"}},
"y":{"field":"v","type":"quantitative","scale":{"domain":[-5333,245],"nice":false,"zero":false},"axis":{"title":null,"values":[245,0,-1000,-2000,-3000,-4000,-5000,-5333],"labelExpr":"datum.value == 245 ? '245.0' : datum.value == 0 ? '0.000' : datum.value == -2000 ? '' : format(datum.value, 'd')","grid":true,"gridColor":"#d4d4d4","domainColor":"#333333","tickColor":"#333333","tickSize":5,"labelPadding":3,"labelOverlap":false,"labelFont":"Liberation Sans","labelFontSize":10,"labelColor":"#555555"}}
},
"layer":[
{"data":{"values":[{"a":"01-02","b":"12-31","v":0}],"format":{"parse":{"a":"date:'%m-%d'","b":"date:'%m-%d'"}}},
"mark":{"type":"rule","color":"#333333","strokeWidth":1},"encoding":{"x":{"field":"a","type":"temporal"},"x2":{"field":"b"},"y":{"field":"v","type":"quantitative"}}},
{"transform":[{"filter":{"field":"s","oneOf":["2014","2015","2016","2017","2018","2019","2020","2021"]}}],
"mark":{"type":"line","strokeWidth":1.6},
"encoding":{"stroke":{"field":"s","type":"nominal","sort":null,"scale":{"domain":["2013","2014","2015","2016","2017","2018","2019","2020","2021"],"range":["#c6e0b4","#c4c4c4","#5b9bd5","#5ad33a","#ff33bb","#c2ae84","#ffc000","#0f8f8f","#4836a6"]},
"legend":{"orient":"none","legendX":-62,"legendY":-49,"direction":"horizontal","columns":9,"symbolType":"M-1,0L-0.45,0M0.45,0L1,0M-0.45,0A0.45,0.45,0,1,1,0.45,0A0.45,0.45,0,1,1,-0.45,0","symbolSize":324,"symbolStrokeWidth":1.3,"symbolOpacity":0.75,"labelFont":"Liberation Sans","labelFontSize":10,"labelColor":"#333333","columnPadding":5,"labelOffset":5,"title":null,"encode":{"symbols":{"update":{"fill":{"value":"white"},"strokeWidth":{"value":1.3}}}}}}}},
{"transform":[{"filter":{"field":"s","oneOf":["2022","2023","2024"]}}],
"mark":{"type":"line","strokeWidth":1.6},
"encoding":{"color":{"field":"s","type":"nominal","sort":null,"scale":{"domain":["2022","2023","2024","2025","2013-2024均值"],"range":["#820a5e","#cbbca6","#c83b30","#2c3e50","#8c8c8c"]},
"legend":{"orient":"none","legendX":-62,"legendY":-31,"direction":"horizontal","columns":5,"symbolType":"M-1,0L-0.45,0M0.45,0L1,0M-0.45,0A0.45,0.45,0,1,1,0.45,0A0.45,0.45,0,1,1,-0.45,0","symbolSize":324,"symbolStrokeWidth":1.3,"symbolOpacity":0.75,"labelFont":"Liberation Sans","labelFontSize":10,"labelColor":"#333333","columnPadding":5,"labelOffset":5,"title":null,"encode":{"symbols":{"update":{"fill":{"value":"white"},"strokeWidth":{"value":1.3}}}}}}}},
{"transform":[{"filter":{"field":"s","equal":"2013-2024均值"}}],
"mark":{"type":"line","strokeWidth":1.3,"strokeDash":[2,2]},
"encoding":{"color":{"field":"s","type":"nominal"}}},
{"transform":[{"filter":{"field":"s","equal":"2025"}}],
"mark":{"type":"line","strokeWidth":4.5,"strokeJoin":"round"},
"encoding":{"color":{"field":"s","type":"nominal"}}},
{"transform":[{"filter":{"field":"s","oneOf":["2014","2015","2016","2017","2018","2019","2020","2021"]}},{"filter":"(month(datum.d)==0 && date(datum.d)==2) || (month(datum.d)==11 && date(datum.d)==31)"}],
"mark":{"type":"point","shape":"circle","filled":false,"fill":"white","size":18,"strokeWidth":1,"opacity":1},
"encoding":{"stroke":{"field":"s","type":"nominal"}}},
{"transform":[{"filter":{"field":"s","oneOf":["2022","2023","2024","2025","2013-2024均值"]}},{"filter":"(month(datum.d)==0 && date(datum.d)==2) || (month(datum.d)==11 && date(datum.d)==31) || (datum.s=='2025' && month(datum.d)==9 && date(datum.d)==27)"}],
"mark":{"type":"point","shape":"circle","filled":false,"fill":"white","size":18,"strokeWidth":1,"opacity":1},
"encoding":{"color":{"field":"s","type":"nominal"}}},
{"data":{"values":[{"d":"01-02","v":-2110,"t":"-2110"}],"format":{"parse":{"d":"date:'%m-%d'"}}},"mark":{"type":"text","font":"Liberation Sans","fontSize":12,"fontWeight":"bold","color":"#2c3e50","align":"center","baseline":"middle","dx":-22,"dy":-4},
"encoding":{"text":{"field":"t"}}},
{"data":{"values":[{"d":"10-27","v":-5333,"t":"10-27"}],"format":{"parse":{"d":"date:'%m-%d'"}}},"mark":{"type":"text","font":"Liberation Sans","fontSize":12,"fontWeight":"bold","color":"#333333","align":"center","baseline":"middle","dy":10},
"encoding":{"text":{"field":"t"}}}
]
}
